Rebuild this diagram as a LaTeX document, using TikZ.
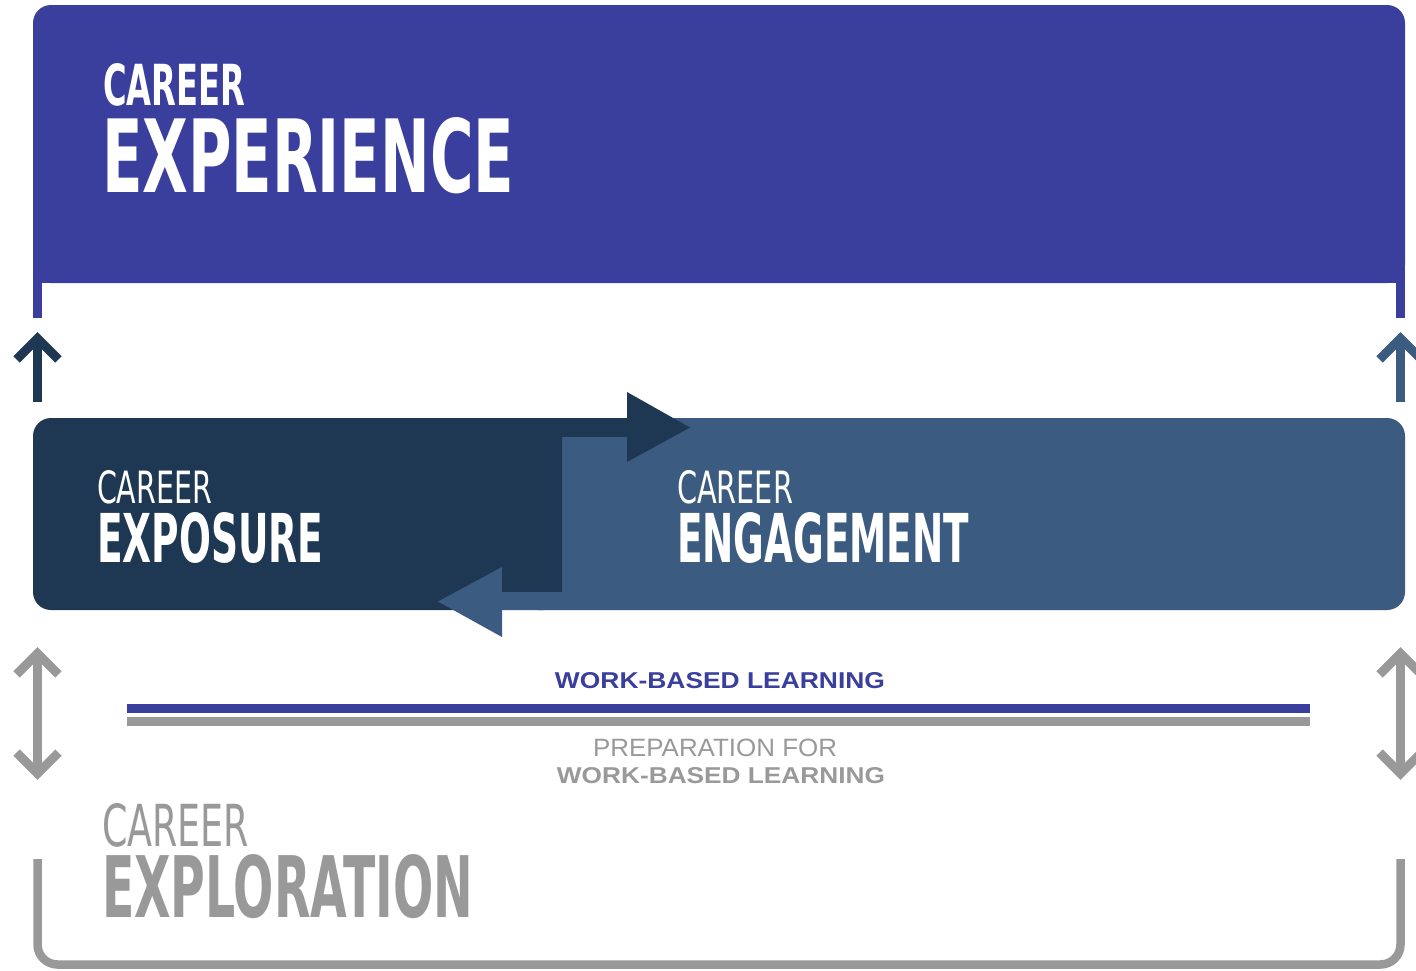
\documentclass[tikz,border=0pt]{standalone}
\usepackage{fontspec}
\usepackage{graphicx}
\setmainfont{Liberation Sans}
\newfontfamily\condfont{DejaVu Sans Condensed}
\definecolor{cpurple}{HTML}{3A3E9D}
\definecolor{cnavy}{HTML}{1E3752}
\definecolor{cblue}{HTML}{3B5B80}
\definecolor{cgray}{HTML}{999999}
% scale a word to an exact width and cap height (in pt); depth is dropped
\newcommand{\titlefit}[3]{\resizebox{#1pt}{#2pt}{\smash[b]{#3}}}
\usepackage{mathtools}
\tikzset{
  title/.style={anchor=base west, inner sep=0pt, outer sep=0pt},
  label/.style={anchor=base, inner sep=0pt, outer sep=0pt},
  arrowline/.style={line width=9pt, line join=miter, line cap=butt},
}
\begin{document}
\begin{tikzpicture}[x=1pt,y=-1pt]
\useasboundingbox (0,0) rectangle (1416,970);

% ---- top band: career experience ----
\fill[cpurple, rounded corners=18pt] (33,5) rectangle (1405,283);
\fill[cpurple] (33,240) rectangle (1405,283);
\fill[cpurple] (33,270) rectangle (42,318);
\fill[cpurple] (1396,270) rectangle (1405,318);

% ---- up arrows between experience and the middle band ----
\draw[arrowline, cnavy] (37.5,402) -- (37.5,337);
\draw[arrowline, cnavy] (16.5,359.4) -- (37.5,338.4) -- (58.5,359.4);
\draw[arrowline, cblue] (1400.5,402) -- (1400.5,337);
\draw[arrowline, cblue] (1379.5,359.4) -- (1400.5,338.4) -- (1421.5,359.4);

% ---- middle band: exposure <-> engagement ----
\fill[cblue, rounded corners=18pt] (520,418) rectangle (1405,610);
\fill[cnavy, rounded corners=18pt] (33,418) rectangle (562,610);
\fill[cnavy] (500,418) rectangle (562,610);
% forward arrow (exposure to engagement)
\fill[cnavy] (560,418) rectangle (628,437);
\fill[cnavy] (627,392) -- (690,427.5) -- (627,462) -- cycle;
% return arrow (engagement to exposure)
\fill[cblue] (501,592) rectangle (563,610);
\fill[cblue] (502,567) -- (438,601.5) -- (502,637) -- cycle;

% ---- two-way arrows between middle band and exploration ----
\draw[arrowline, cgray] (37.5,652) -- (37.5,775);
\draw[arrowline, cgray] (16.5,674.4) -- (37.5,653.4) -- (58.5,674.4);
\draw[arrowline, cgray] (16.5,752.6) -- (37.5,773.6) -- (58.5,752.6);
\draw[arrowline, cgray] (1400.5,652) -- (1400.5,775);
\draw[arrowline, cgray] (1379.5,674.4) -- (1400.5,653.4) -- (1421.5,674.4);
\draw[arrowline, cgray] (1379.5,752.6) -- (1400.5,773.6) -- (1421.5,752.6);

% ---- dividing rules ----
\fill[cpurple] (127,703.5) rectangle (1310,713);
\fill[cgray] (127,716.5) rectangle (1310,726);

% ---- bottom bracket: career exploration ----
\draw[cgray, line width=8.5pt, rounded corners=20pt]
  (37.5,859) -- (37.5,964.5) -- (1400.5,964.5) -- (1400.5,859);

% ---- titles ----
\node[title, text=white] (experienceA) at (103,105)
  {\titlefit{142}{42}{\condfont\bfseries CAREER}};
\node[title, text=white] (experienceB) at (102,192)
  {\titlefit{412}{75}{\condfont\bfseries EXPERIENCE}};
\node[title, text=white] (exposureA) at (97,503)
  {\titlefit{115}{33}{\condfont CAREER}};
\node[title, text=white] (exposureB) at (97,562)
  {\titlefit{226}{50}{\condfont\bfseries EXPOSURE}};
\node[title, text=white] (engagementA) at (677,503)
  {\titlefit{116}{33}{\condfont CAREER}};
\node[title, text=white] (engagementB) at (677,562)
  {\titlefit{292}{50}{\condfont\bfseries ENGAGEMENT}};
\node[title, text=cgray] (explorationA) at (102,846)
  {\titlefit{147}{43}{\condfont CAREER}};
\node[title, text=cgray] (explorationB) at (102,917)
  {\titlefit{371}{63}{\condfont\bfseries EXPLORATION}};

% ---- rule labels ----
\node[label, text=cpurple] (wbl) at (720,688)
  {\titlefit{330}{16}{\bfseries WORK-BASED LEARNING}};
\node[label, text=cgray] (prepA) at (715,756.5)
  {\titlefit{244}{17.5}{PREPARATION FOR}};
\node[label, text=cgray] (prepB) at (721,783)
  {\titlefit{328}{16}{\bfseries WORK-BASED LEARNING}};
\end{tikzpicture}
\end{document}
